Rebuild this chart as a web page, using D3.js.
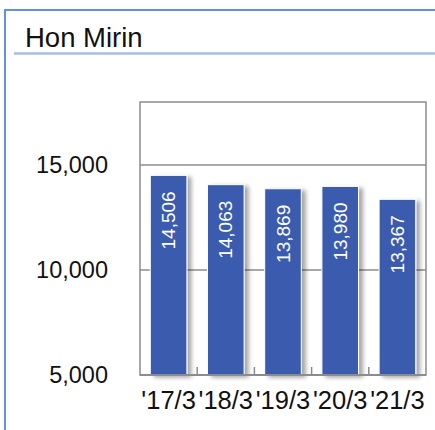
<!DOCTYPE html>
<html>
<head>
<meta charset="utf-8">
<script src="https://cdn.jsdelivr.net/npm/d3@7"></script>
<style>
  html, body { margin: 0; padding: 0; background: #fff; }
  svg { display: block; }
  text { font-family: "Liberation Sans", Arial, sans-serif; }
</style>
</head>
<body>
<script>
const title = "Hon Mirin";
const categories = ["'17/3", "'18/3", "'19/3", "'20/3", "'21/3"];
const values = [14506, 14063, 13869, 13980, 13367];
const yTicks = [5000, 10000, 15000];
const yDomain = [5000, 18000];

const W = 435, H = 430;
const svg = d3.select("body").append("svg").attr("width", W).attr("height", H);

const defs = svg.append("defs");
const f = defs.append("filter").attr("id", "shadow")
  .attr("x", "-20%").attr("y", "-10%").attr("width", "160%").attr("height", "130%");
f.append("feDropShadow").attr("dx", 4).attr("dy", 2).attr("stdDeviation", 2)
  .attr("flood-color", "#000").attr("flood-opacity", 0.35);

// outer frame
svg.append("rect").attr("x", 5).attr("y", 10).attr("width", 450).attr("height", 450)
  .attr("fill", "none").attr("stroke", "#5f93dc").attr("stroke-width", 2);

// title
svg.append("text").attr("x", 25).attr("y", 46.5).attr("font-size", 27.5)
  .attr("fill", "#111").text(title);
svg.append("line").attr("x1", 14).attr("x2", 435).attr("y1", 53.5).attr("y2", 53.5)
  .attr("stroke", "#a8bce6").attr("stroke-width", 2.5);

const L = 140, R = 426, T = 102, B = 375;
const x = d3.scaleBand().domain(categories).range([L, R]).paddingInner(0.36).paddingOuter(0.18);
const y = d3.scaleLinear().domain(yDomain).range([B, T]);

const grey = "#8c8c8c";
// gridlines
svg.append("g").selectAll("line").data(yTicks.filter(d => d > yDomain[0])).join("line")
  .attr("x1", L).attr("x2", R).attr("y1", d => y(d)).attr("y2", d => y(d))
  .attr("stroke", grey).attr("stroke-width", 1.5);

// plot frame
svg.append("rect").attr("x", L).attr("y", T).attr("width", R - L).attr("height", B - T)
  .attr("fill", "none").attr("stroke", grey).attr("stroke-width", 1.5);

// x ticks at band boundaries
const step = x.step();
const bounds = d3.range(1, categories.length).map(i => L + i * step);
svg.append("g").selectAll("line").data(bounds).join("line")
  .attr("x1", d => d).attr("x2", d => d).attr("y1", B).attr("y2", B - 8)
  .attr("stroke", grey).attr("stroke-width", 1.5);

// y axis labels
svg.append("g").selectAll("text").data(yTicks).join("text")
  .attr("x", 108).attr("y", d => y(d)).attr("dy", "0.35em")
  .attr("text-anchor", "end").attr("font-size", 23.5).attr("fill", "#111")
  .text(d => d3.format(",")(d));

// bars
svg.append("g").selectAll("rect").data(values).join("rect")
  .attr("x", (d, i) => x(categories[i])).attr("width", x.bandwidth())
  .attr("y", d => y(d)).attr("height", d => B - y(d))
  .attr("fill", "#3a5cae").attr("stroke", "#ffffff").attr("stroke-width", 1)
  .attr("filter", "url(#shadow)");

// bottom axis line over bars
svg.append("line").attr("x1", L).attr("x2", R).attr("y1", B).attr("y2", B)
  .attr("stroke", grey).attr("stroke-width", 2);

// value labels
svg.append("g").selectAll("text").data(values).join("text")
  .attr("transform", (d, i) => {
    const cx = x(categories[i]) + x.bandwidth() / 2;
    return `translate(${cx},${y(d) + 16}) rotate(-90)`;
  })
  .attr("text-anchor", "end").attr("dy", "0.35em")
  .attr("font-size", 19).attr("fill", "#ffffff")
  .text(d => d3.format(",")(d));

// x labels
svg.append("g").selectAll("text").data(categories).join("text")
  .attr("x", d => x(d) + x.bandwidth() / 2).attr("y", 409)
  .attr("text-anchor", "middle").attr("font-size", 25.5).attr("fill", "#111")
  .text(d => d);
</script>
</body>
</html>
